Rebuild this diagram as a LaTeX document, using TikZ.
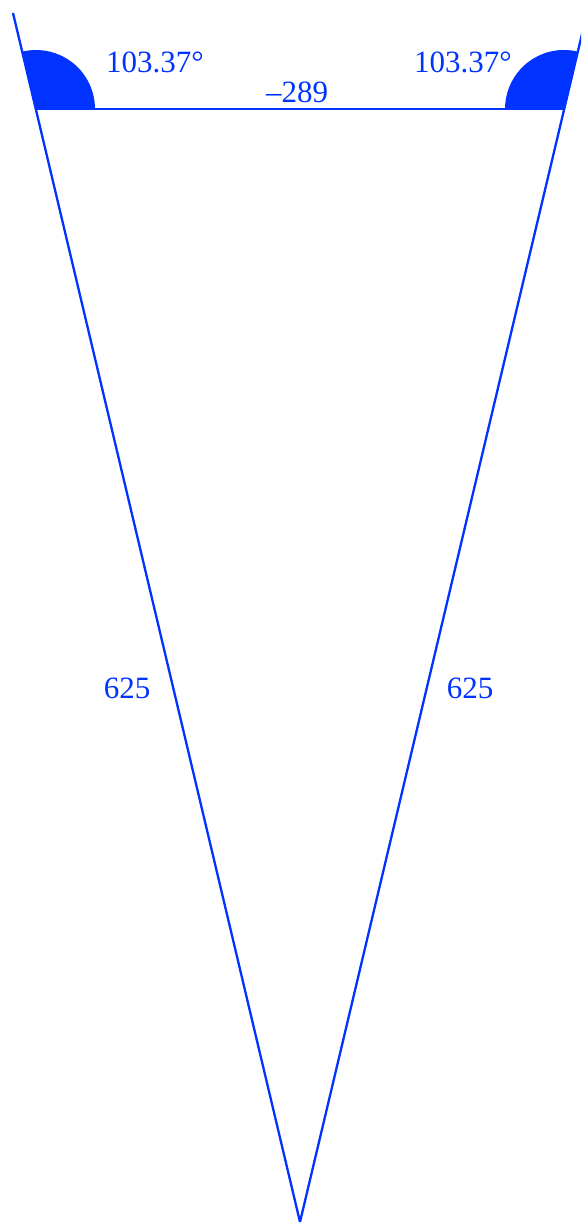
\documentclass[tikz,border=0pt]{standalone}
\usepackage{fontspec}
\setmainfont{Liberation Serif}
\definecolor{tblue}{RGB}{0,51,255}
\begin{document}
\begin{tikzpicture}[x=1pt,y=1pt,
  edge/.style={draw=tblue,line width=2.3pt},
  wedge/.style={fill=tblue},
  lbl/.style={text=tblue,font=\fontsize{31}{31}\selectfont,inner sep=0pt}]
\useasboundingbox (0,0) rectangle (581,1223);
\clip (0,0) rectangle (581,1223);
\coordinate (A) at (36,1114);
\coordinate (B) at (564,1114);
\coordinate (C) at (300,1);
\coordinate (At) at (13,1210);
\coordinate (Bt) at (587,1210);
\fill[wedge] (A) -- ++(0:59) arc[start angle=0,end angle=103.37,radius=59] -- cycle;
\fill[wedge] (B) -- ++(76.63:59) arc[start angle=76.63,end angle=180,radius=59] -- cycle;
\draw[edge] (A) -- (B);
\draw[edge] (C) -- (At);
\draw[edge] (C) -- (Bt);
\node[lbl] (aA) at (155,1161) {103.37°};
\node[lbl] (aB) at (463,1161) {103.37°};
\node[lbl] (lAB) at (297,1131) {\textendash289};
\node[lbl] (lAC) at (127,535) {625};
\node[lbl] (lBC) at (470,535) {625};
\end{tikzpicture}
\end{document}
